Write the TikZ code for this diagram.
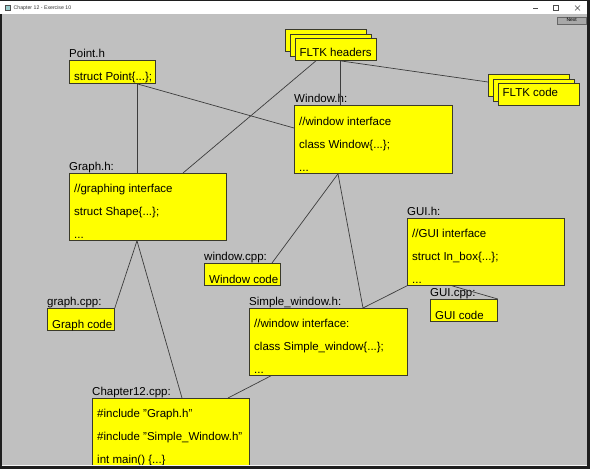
\documentclass[tikz,border=0pt]{standalone}
\usepackage{fontspec}
\setmainfont{Liberation Sans}
\usetikzlibrary{positioning,calc}
\definecolor{cFrame}{HTML}{1E1E1E}
\definecolor{cWin}{HTML}{C0C0C0}
\definecolor{cBox}{HTML}{FFFF00}
\definecolor{cEdge}{HTML}{3A3A2A}
\definecolor{cLine}{HTML}{3C3C3C}
\definecolor{cBtn}{HTML}{A8A8A8}
\tikzset{
  box/.style={rectangle, draw=cEdge, fill=cBox, anchor=north west, inner sep=0pt, line width=0.8pt},
  ttl/.style={anchor=base west, inner sep=0pt, font=\fontsize{11.5}{13}\selectfont},
  txt/.style={anchor=base west, inner sep=0pt, align=left, font=\fontsize{11.5}{23}\selectfont},
  link/.style={draw=cLine, line width=0.7pt},
}

\begin{document}
\begin{tikzpicture}[x=1pt, y=-1pt]
  % window frame
  \fill[cFrame] (0,0) rectangle (590,469);
  \useasboundingbox (0,0) rectangle (590,469);
  \fill[white] (0,0.6) rectangle (587,14);
  \fill[cWin] (1.5,14) rectangle (587,465);
  \node[draw=black!70, fill=teal!40, minimum size=5pt, inner sep=0pt] (icon) at (8,8) {};
  \node[anchor=west, inner sep=0pt, font=\fontsize{5.2}{6}\selectfont, black!80] (title) at (13.5,8.2) {Chapter 12 - Exercise 10};
  \draw[black!70, line width=0.4pt] (533,8) -- (538,8);
  \draw[black!70, line width=0.4pt] (553.5,5.5) rectangle (558.5,10.5);
  \draw[black!70, line width=0.4pt] (575,5.5) -- (580,10.5) (575,10.5) -- (580,5.5);
  \node[draw=black!60, fill=cBtn, minimum width=29pt, minimum height=7pt, inner sep=0pt,
        font=\fontsize{5}{6}\selectfont, anchor=north west] (next) at (557,16.5) {Next};

  % boxes
  \node[box, minimum width=86pt, minimum height=23pt] (pointh) at (69,60) {};
  \foreach \d in {0,1,2}
    \node[box, minimum width=81pt, minimum height=22pt] (fltkh\d) at ({285+5*\d},{29+4.5*\d}) {};
  \foreach \d in {0,1,2}
    \node[box, minimum width=81pt, minimum height=22pt] (fltkc\d) at ({488+5*\d},{74+4.5*\d}) {};
  \node[box, minimum width=158pt, minimum height=68pt] (windowh) at (294,105) {};
  \node[box, minimum width=157pt, minimum height=67pt] (graphh) at (69,173) {};
  \node[box, minimum width=76pt, minimum height=22pt] (windowcpp) at (204,263) {};
  \node[box, minimum width=67pt, minimum height=22pt] (graphcpp) at (47,308) {};
  \node[box, minimum width=157pt, minimum height=67pt] (guih) at (407,218) {};
  \node[box, minimum width=67pt, minimum height=22pt] (guicpp) at (430,299) {};
  \node[box, minimum width=158pt, minimum height=67pt] (simpleh) at (249,308) {};
  \node[box, minimum width=157pt, minimum height=67pt] (ch12) at (92,398) {};

  % labels
  \node[ttl] (pointh-l) at ([yshift=3pt]pointh.north west) {Point.h};
  \node[ttl] (windowh-l) at ([yshift=3pt]windowh.north west) {Window.h:};
  \node[ttl] (graphh-l) at ([yshift=3pt]graphh.north west) {Graph.h:};
  \node[ttl] (windowcpp-l) at ([yshift=3pt]windowcpp.north west) {window.cpp:};
  \node[ttl] (graphcpp-l) at ([yshift=3pt]graphcpp.north west) {graph.cpp:};
  \node[ttl] (guih-l) at ([yshift=3pt]guih.north west) {GUI.h:};
  \node[ttl] (guicpp-l) at ([yshift=3pt]guicpp.north west) {GUI.cpp:};
  \node[ttl] (simpleh-l) at ([yshift=3pt]simpleh.north west) {Simple\_window.h:};
  \node[ttl] (ch12-l) at ([yshift=3pt]ch12.north west) {Chapter12.cpp:};

  % box contents (multi-line: base is the last line)
  \node[txt] (pointh-t) at ([xshift=5pt, yshift=-20.5pt]pointh.north west) {struct Point\{...\};};
  \node[txt] (fltkh-t) at ([xshift=4.5pt, yshift=-18pt]fltkh2.north west) {FLTK headers};
  \node[txt] (fltkc-t) at ([xshift=4.5pt, yshift=-13pt]fltkc2.north west) {FLTK code};
  \node[txt] (windowh-t) at ([xshift=5pt, yshift=-66pt]windowh.north west)
    {//window interface\\class Window\{...\};\\...};
  \node[txt] (graphh-t) at ([xshift=5pt, yshift=-65pt]graphh.north west)
    {//graphing interface\\struct Shape\{...\};\\...};
  \node[txt] (windowcpp-t) at ([xshift=5pt, yshift=-20pt]windowcpp.north west) {Window code};
  \node[txt] (graphcpp-t) at ([xshift=5pt, yshift=-20pt]graphcpp.north west) {Graph code};
  \node[txt] (guih-t) at ([xshift=5pt, yshift=-65pt]guih.north west)
    {//GUI interface\\struct In\_box\{...\};\\...};
  \node[txt] (guicpp-t) at ([xshift=5pt, yshift=-20pt]guicpp.north west) {GUI code};
  \node[txt] (simpleh-t) at ([xshift=5pt, yshift=-65pt]simpleh.north west)
    {//window interface:\\class Simple\_window\{...\};\\...};
  \node[txt] (ch12-t) at ([xshift=5pt, yshift=-65pt]ch12.north west)
    {\#include "Graph.h"\\\#include "Simple\_Window.h"\\int main() \{...\}};

  % connectors
  \draw[link] ([xshift=68pt]pointh.south west) -- ([xshift=68pt]graphh.north west);
  \draw[link] ([xshift=68pt]pointh.south west) -- ([yshift=-23pt]windowh.north west);
  \draw[link] ([xshift=21pt]fltkh2.south west) -- ([xshift=114pt]graphh.north west);
  \draw[link] ([xshift=45pt]fltkh2.south west) -- ([xshift=46pt]windowh.north west);
  \draw[link] ([xshift=45pt]fltkh2.south west) -- ([yshift=-8pt]fltkc0.north west);
  \draw[link] ([xshift=44pt]windowh.south west) -- ([xshift=68pt]windowcpp.north west);
  \draw[link] ([xshift=44pt]windowh.south west) -- ([xshift=114pt]simpleh.north west);
  \draw[link] (guih.south west) -- ([xshift=114pt]simpleh.north west);
  \draw[link] ([xshift=45pt]guih.south west) -- (guicpp.north east);
  \draw[link] ([xshift=68pt]graphh.south west) -- (graphcpp.north east);
  \draw[link] ([xshift=68pt]graphh.south west) -- ([xshift=90pt]ch12.north west);
  \draw[link] ([xshift=22pt]simpleh.south west) -- ([xshift=136pt]ch12.north west);

  % bottom edge of the window
  \fill[cFrame] (0,465.6) rectangle (590,469);
  \draw[white!80!cWin, line width=0.6pt] (1.5,465.3) -- (587,465.3);
\end{tikzpicture}
\end{document}
